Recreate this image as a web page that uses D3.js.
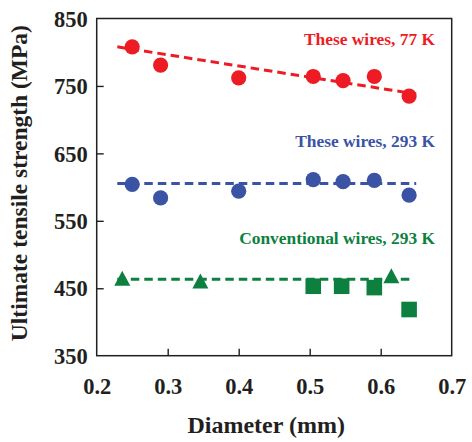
<!DOCTYPE html>
<html>
<head>
<meta charset="utf-8">
<script src="https://cdn.jsdelivr.net/npm/d3@7"></script>
<style>
  html, body { margin: 0; padding: 0; background: #fff; }
  svg { display: block; }
  text { font-family: "Liberation Serif", "Times New Roman", serif; font-weight: bold; }
</style>
</head>
<body>
<script>
// ---- data ----
const xTicks = [0.2, 0.3, 0.4, 0.5, 0.6, 0.7];
const yTicks = [350, 450, 550, 650, 750, 850];

const red77Diam = [0.25, 0.29, 0.40, 0.505, 0.547, 0.591, 0.64];
const red77UTS  = [808, 781, 762, 764, 758, 764, 735];
const red77Fit  = [[0.229, 808], [0.65, 738]];

const blue293Diam = [0.25, 0.29, 0.40, 0.505, 0.547, 0.591, 0.64];
const blue293UTS  = [604, 584, 594, 611, 608, 610, 588];
const blue293Fit  = [[0.229, 605.5], [0.65, 605.5]];

const convTriDiam = [0.236, 0.346, 0.615];
const convTriUTS  = [461, 457, 465];
const convSqDiam  = [0.505, 0.545, 0.591, 0.64];
const convSqUTS   = [453, 453, 451, 418.5];
const convFit     = [[0.229, 463.5], [0.647, 463.5]];

const labels = [
  { text: "These wires, 77 K", x: 0.6765, y: 810.5, color: "#ED1C24" },
  { text: "These wires, 293 K", x: 0.6765, y: 660, color: "#3A53A4" },
  { text: "Conventional wires, 293 K", x: 0.6765, y: 515.5, color: "#0D8040" }
];

const RED = "#ED1C24", BLUE = "#3A53A4", GREEN = "#0D8040";

// ---- chart ----
const W = 472, H = 442;
const mLeft = 96.7, mRight = 451.7, mTop = 18.5, mBottom = 355.7;

const svg = d3.select("body").append("svg").attr("width", W).attr("height", H);

const x = d3.scaleLinear().domain([0.2, 0.7]).range([mLeft, mRight]);
const y = d3.scaleLinear().domain([350, 850]).range([mBottom, mTop]);

// axes
const xAxis = d3.axisBottom(x).tickValues(xTicks).tickFormat(d3.format(".1f")).tickSizeInner(-7).tickSizeOuter(0).tickPadding(22);
const yAxis = d3.axisLeft(y).tickValues(yTicks).tickFormat(d3.format("d")).tickSizeInner(-7).tickSizeOuter(0).tickPadding(9);

const gx = svg.append("g").attr("transform", `translate(0,${mBottom})`).call(xAxis);
const gy = svg.append("g").attr("transform", `translate(${mLeft},0)`).call(yAxis);
[gx, gy].forEach(g => {
  g.select(".domain").remove();
  g.selectAll(".tick line").attr("stroke", "#231F20").attr("stroke-width", 1.4);
  g.selectAll(".tick text").attr("fill", "#231F20").style("font-size", "22.5px")
    .style("font-family", '"Liberation Serif", "Times New Roman", serif').style("font-weight", "bold");
});
gx.selectAll(".tick line").filter(d => d === 0.2 || d === 0.7).remove();
gy.selectAll(".tick line").filter(d => d === 350 || d === 850).remove();
gy.selectAll(".tick text").attr("dy", "0.34em");

// frame
svg.append("rect").attr("x", mLeft).attr("y", mTop).attr("width", mRight - mLeft).attr("height", mBottom - mTop)
  .attr("fill", "none").attr("stroke", "#231F20").attr("stroke-width", 1.5);

// axis titles
svg.append("text").attr("x", (mLeft + mRight) / 2 - 8).attr("y", 433).attr("text-anchor", "middle")
  .style("font-size", "24px").attr("fill", "#231F20").text("Diameter (mm)");
svg.append("text").attr("transform", `translate(27,${(mTop + mBottom) / 2 - 4}) rotate(-90)`).attr("text-anchor", "middle")
  .style("font-size", "23.5px").attr("fill", "#231F20").text("Ultimate tensile strength (MPa)");

// fit lines
const line = d3.line().x(d => x(d[0])).y(d => y(d[1]));
[[red77Fit, RED], [blue293Fit, BLUE], [convFit, GREEN]].forEach(([pts, c]) => {
  svg.append("path").attr("d", line(pts)).attr("fill", "none").attr("stroke", c)
    .attr("stroke-width", 3).attr("stroke-dasharray", "8.5,5");
});

// circles
function circles(xs, ys, c) {
  svg.append("g").selectAll("circle").data(xs.map((d, i) => [d, ys[i]])).join("circle")
    .attr("cx", d => x(d[0])).attr("cy", d => y(d[1])).attr("r", 7.6).attr("fill", c);
}
circles(red77Diam, red77UTS, RED);
circles(blue293Diam, blue293UTS, BLUE);

// squares
svg.append("g").selectAll("rect").data(convSqDiam.map((d, i) => [d, convSqUTS[i]])).join("rect")
  .attr("x", d => x(d[0]) - 7.8).attr("y", d => y(d[1]) - 7.8).attr("width", 15.6).attr("height", 15.6).attr("fill", GREEN);

// triangles (centroid at point)
const tw = 16, th = 15;
svg.append("g").selectAll("path").data(convTriDiam.map((d, i) => [d, convTriUTS[i]])).join("path")
  .attr("d", d => {
    const cx = x(d[0]), cy = y(d[1]);
    return `M${cx},${cy - th * 2 / 3}L${cx + tw / 2},${cy + th / 3}L${cx - tw / 2},${cy + th / 3}Z`;
  }).attr("fill", GREEN);

// labels
svg.append("g").selectAll("text").data(labels).join("text")
  .attr("x", d => x(d.x)).attr("y", d => y(d.y)).attr("text-anchor", "end")
  .style("font-size", "17.4px").attr("fill", d => d.color).text(d => d.text);
</script>
</body>
</html>
